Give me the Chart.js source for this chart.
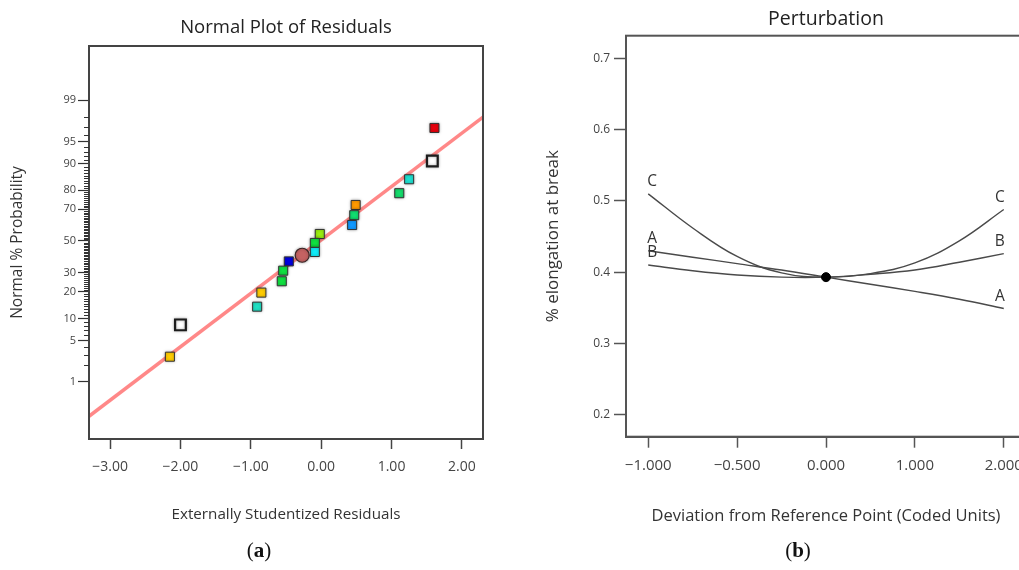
<!DOCTYPE html>
<html lang="en">
<head>
  <meta charset="UTF-8" />
  <title>Normal Plot of Residuals / Perturbation</title>
  <script src="https://cdn.jsdelivr.net/npm/chart.js"></script>
  <style>
    html, body {
      margin: 0;
      padding: 0;
      background: #fff;
      width: 1019px;
      height: 570px;
      overflow: hidden;
    }
    .wrap {
      position: relative;
      width: 1019px;
      height: 570px;
      overflow: hidden;
    }
    canvas {
      position: absolute;
      top: 0;
    }
    #normalPlot { left: 0; }
    #perturbPlot { left: 520px; }
    .caption {
      position: absolute;
      top: 538px;
      font-family: 'Liberation Serif', serif;
      font-size: 21px;
      color: #111;
      transform: translateX(-50%);
    }
    .caption b { font-weight: bold; }
  </style>
</head>
<body>
  <div class="wrap">
    <canvas id="normalPlot" width="500" height="540"></canvas>
    <canvas id="perturbPlot" width="530" height="540"></canvas>
    <div class="caption" style="left:259px">(<b>a</b>)</div>
    <div class="caption" style="left:798px">(<b>b</b>)</div>
  </div>

  <script>
    // ---- (a) normal plot of residuals ----
    const residualX = [1.61, 1.25, 1.11, 0.49, 0.47, 0.44, -0.02, -0.09, -0.09, -0.46, -0.54, -0.56, -0.85, -0.91, -2.15];
    const residualP = [96.9, 84.6, 78.5, 72.4, 66.5, 60.4, 54.6, 48.7, 42.8, 36.8, 31.2, 25.3, 19.7, 13.9, 2.8];
    const residualColors = ['#e8000c', '#1fe0d0', '#14dc6c', '#ff9a00', '#10de70', '#1199ff', '#9aee10',
                            '#10e040', '#10ecf8', '#0000e0', '#10e040', '#10e040', '#ffcc00', '#20e0c4', '#ffcc00'];
    const openX = [1.58, -2.00];
    const openP = [90.7, 8.3];
    const circleX = [-0.27];
    const circleP = [40.7];
    const fitX = [-3.3, 2.3];
    const fitP = [0.19, 97.96];

    const resTickVals = [-3, -2, -1, 0, 1, 2];
    const resTickLabels = ['\u22123.00', '\u22122.00', '\u22121.00', '0.00', '1.00', '2.00'];
    const probTickLabels = [1, 5, 10, 20, 30, 50, 70, 80, 90, 95, 99];

    // ---- (b) perturbation ----
    const devX = [-1, -0.75, -0.5, -0.25, 0, 0.25, 0.5, 0.75, 1];
    const factorA = [0.430, 0.421, 0.412, 0.403, 0.393, 0.383, 0.373, 0.362, 0.349];
    const factorB = [0.410, 0.402, 0.396, 0.393, 0.393, 0.397, 0.403, 0.414, 0.426];
    const factorC = [0.510, 0.462, 0.422, 0.399, 0.393, 0.398, 0.413, 0.444, 0.488];
    const refX = [0];
    const refY = [0.393];

    const devTickVals = [-1, -0.5, 0, 0.5, 1];
    const devTickLabels = ['\u22121.000', '\u22120.500', '0.000', '1.000', '2.000'];
    const elongTickVals = [0.2, 0.3, 0.4, 0.5, 0.6, 0.7];
    const elongTickLabels = ['0.2', '0.3', '0.4', '0.5', '0.6', '0.7'];

    const FONT = "'Open Sans', 'Noto Sans', sans-serif";

    // inverse normal cdf (Acklam), used for the probability axis
    function probit(p) {
      const a = [-3.969683028665376e+01, 2.209460984245205e+02, -2.759285104469687e+02, 1.383577518672690e+02, -3.066479806614716e+01, 2.506628277459239e+00];
      const b = [-5.447609879822406e+01, 1.615858368580409e+02, -1.556989798598866e+02, 6.680131188771972e+01, -1.328068155288572e+01];
      const c = [-7.784894002430293e-03, -3.223964580411365e-01, -2.400758277161838e+00, -2.549671324505935e+00, 4.374664141464968e+00, 2.938163982698783e+00];
      const d = [7.784695709041462e-03, 3.224671290700398e-01, 2.445134137142996e+00, 3.754408661907416e+00];
      const lo = 0.02425;
      let q, r;
      if (p < lo) {
        q = Math.sqrt(-2 * Math.log(p));
        return (((((c[0]*q+c[1])*q+c[2])*q+c[3])*q+c[4])*q+c[5]) / ((((d[0]*q+d[1])*q+d[2])*q+d[3])*q+1);
      }
      if (p > 1 - lo) {
        q = Math.sqrt(-2 * Math.log(1 - p));
        return -(((((c[0]*q+c[1])*q+c[2])*q+c[3])*q+c[4])*q+c[5]) / ((((d[0]*q+d[1])*q+d[2])*q+d[3])*q+1);
      }
      q = p - 0.5; r = q * q;
      return (((((a[0]*r+a[1])*r+a[2])*r+a[3])*r+a[4])*r+a[5])*q / (((((b[0]*r+b[1])*r+b[2])*r+b[3])*r+b[4])*r+1);
    }
    const toPoints = (xs, ps) => xs.map((x, i) => ({ x: x, y: probit(ps[i] / 100) }));

    // box round the plot area
    const frame = {
      id: 'frame',
      afterDraw(chart, args, opts) {
        const { ctx, chartArea: a } = chart;
        ctx.save();
        ctx.strokeStyle = opts.color || '#444';
        ctx.lineWidth = opts.width || 2;
        ctx.strokeRect(a.left, a.top, a.right - a.left, a.bottom - a.top);
        ctx.restore();
      }
    };

    // heading centred over the plot area (the built-in title centres on the canvas)
    const plotTitle = {
      id: 'plotTitle',
      afterDraw(chart, args, opts) {
        const { ctx, chartArea: a } = chart;
        ctx.save();
        ctx.fillStyle = '#222';
        ctx.font = opts.size + 'px ' + FONT;
        ctx.textAlign = 'center';
        ctx.textBaseline = 'middle';
        ctx.fillText(opts.text, (a.left + a.right) / 2, opts.y);
        ctx.restore();
      }
    };

    // soft halo under the square markers
    const glow = {
      id: 'glow',
      beforeDatasetDraw(chart, args) {
        if (!chart.data.datasets[args.index].glow) return;
        chart.ctx.save();
        chart.ctx.shadowColor = 'rgba(0,0,0,0.35)';
        chart.ctx.shadowBlur = 3;
      },
      afterDatasetDraw(chart, args) {
        if (!chart.data.datasets[args.index].glow) return;
        chart.ctx.restore();
      }
    };

    // short unlabelled ticks at every whole percent
    const minorTicks = {
      id: 'minorTicks',
      afterDraw(chart) {
        const s = chart.scales.y;
        const ctx = chart.ctx;
        ctx.save();
        ctx.strokeStyle = '#333';
        ctx.lineWidth = 1;
        for (let p = 1; p <= 99; p++) {
          if (probTickLabels.includes(p)) continue;
          const y = Math.round(s.getPixelForValue(probit(p / 100))) + 0.5;
          ctx.beginPath();
          ctx.moveTo(s.right - 5, y);
          ctx.lineTo(s.right, y);
          ctx.stroke();
        }
        ctx.restore();
      }
    };

    new Chart(document.getElementById('normalPlot'), {
      type: 'scatter',
      data: {
        datasets: [
          {
            type: 'line',
            data: toPoints(fitX, fitP),
            borderColor: 'rgba(255,110,110,0.82)',
            borderWidth: 3.5,
            pointRadius: 0,
            order: 5
          },
          {
            data: toPoints(residualX, residualP),
            pointStyle: 'rect',
            pointRadius: 6.4,
            pointBackgroundColor: residualColors,
            pointBorderColor: '#333',
            pointBorderWidth: 1,
            glow: true,
            order: 2
          },
          {
            data: toPoints(openX, openP),
            pointStyle: 'rect',
            pointRadius: 7.6,
            pointBackgroundColor: '#fff',
            pointBorderColor: '#1c1c1c',
            pointBorderWidth: 2.2,
            glow: true,
            order: 2
          },
          {
            data: toPoints(circleX, circleP),
            pointStyle: 'circle',
            pointRadius: 7,
            pointBackgroundColor: '#c46262',
            pointBorderColor: '#3a2626',
            pointBorderWidth: 1.2,
            glow: true,
            order: 1
          }
        ]
      },
      options: {
        responsive: false,
        animation: false,
        events: [],
        layout: { padding: { left: 0, right: 17, top: 46, bottom: 0 } },
        plugins: {
          legend: { display: false },
          tooltip: { enabled: false },
          title: { display: false },
          plotTitle: { text: 'Normal Plot of Residuals', size: 18.5, y: 28 },
          frame: { color: '#444', width: 2 }
        },
        scales: {
          x: {
            type: 'linear',
            min: -3.3,
            max: 2.3,
            afterBuildTicks: s => { s.ticks = resTickVals.map(v => ({ value: v })); },
            afterFit: s => { s.height = 101; },
            ticks: {
              callback: (v, i) => resTickLabels[i],
              color: '#444',
              font: { family: FONT, size: 14 },
              padding: 10,
              maxRotation: 0
            },
            grid: { drawOnChartArea: false, tickLength: 10, tickColor: '#444', tickWidth: 1.5 },
            border: { color: '#444', width: 2 },
            title: {
              display: true,
              text: 'Externally Studentized Residuals',
              color: '#333',
              font: { family: FONT, size: 15.2 },
              padding: { top: 0, bottom: 15.9 }
            }
          },
          y: {
            type: 'linear',
            min: -3.27,
            max: 3.22,
            afterBuildTicks: s => { s.ticks = probTickLabels.map(p => ({ value: probit(p / 100) })); },
            afterFit: s => { s.width = 89; },
            ticks: {
              callback: (v, i) => String(probTickLabels[i]),
              color: '#444',
              font: { family: FONT, size: 11 },
              padding: 2
            },
            grid: { drawOnChartArea: false, tickLength: 11, tickColor: '#333', tickWidth: 1.2 },
            border: { color: '#444', width: 2 },
            title: {
              display: true,
              text: 'Normal % Probability',
              color: '#333',
              font: { family: FONT, size: 15.5 },
              padding: { top: 8.7, bottom: 0 }
            }
          }
        }
      },
      plugins: [frame, plotTitle, glow, minorTicks]
    });

    // A / B / C tags at both ends of each curve
    const endTags = {
      id: 'endTags',
      afterDatasetsDraw(chart) {
        const { ctx, scales: { x, y } } = chart;
        ctx.save();
        ctx.fillStyle = '#333';
        ctx.font = '15.5px ' + FONT;
        ctx.textBaseline = 'middle';
        chart.data.datasets.forEach(ds => {
          if (!ds.tag) return;
          const first = ds.data[0];
          const last = ds.data[ds.data.length - 1];
          ctx.textAlign = 'left';
          ctx.fillText(ds.tag, x.getPixelForValue(first.x) - 1, y.getPixelForValue(first.y) - 12);
          ctx.textAlign = 'right';
          ctx.fillText(ds.tag, x.getPixelForValue(last.x) + 1, y.getPixelForValue(last.y) - 12);
        });
        ctx.restore();
      }
    };

    const curve = (tag, ys) => ({
      tag: tag,
      data: devX.map((x, i) => ({ x: x, y: ys[i] })),
      borderColor: '#4a4a4a',
      borderWidth: 1.4,
      pointRadius: 0,
      tension: 0.4,
      fill: false
    });

    new Chart(document.getElementById('perturbPlot'), {
      type: 'line',
      data: {
        datasets: [
          {
            type: 'scatter',
            data: refX.map((x, i) => ({ x: x, y: refY[i] })),
            pointRadius: 4.5,
            pointBackgroundColor: '#000',
            pointBorderColor: '#000',
            order: 0
          },
          curve('A', factorA),
          curve('B', factorB),
          curve('C', factorC)
        ]
      },
      options: {
        responsive: false,
        animation: false,
        events: [],
        layout: { padding: { left: 0, right: 24, top: 35.7, bottom: 0 } },
        plugins: {
          legend: { display: false },
          tooltip: { enabled: false },
          title: { display: false },
          plotTitle: { text: 'Perturbation', size: 19.5, y: 19 },
          frame: { color: '#555', width: 2 }
        },
        scales: {
          x: {
            type: 'linear',
            min: -1.125,
            max: 1.125,
            afterBuildTicks: s => { s.ticks = devTickVals.map(v => ({ value: v })); },
            afterFit: s => { s.height = 103.3; },
            ticks: {
              callback: (v, i) => devTickLabels[i],
              color: '#444',
              font: { family: FONT, size: 15 },
              padding: 9,
              maxRotation: 0
            },
            grid: { drawOnChartArea: false, tickLength: 11, tickColor: '#555', tickWidth: 1.5 },
            border: { color: '#555', width: 2 },
            title: {
              display: true,
              text: 'Deviation from Reference Point (Coded Units)',
              color: '#333',
              font: { family: FONT, size: 16.5 },
              padding: { top: 0, bottom: 14 }
            }
          },
          y: {
            type: 'linear',
            min: 0.169,
            max: 0.732,
            afterBuildTicks: s => { s.ticks = elongTickVals.map(v => ({ value: v })); },
            afterFit: s => { s.width = 106; },
            ticks: {
              callback: (v, i) => elongTickLabels[i],
              color: '#444',
              font: { family: FONT, size: 12 },
              padding: 4
            },
            grid: { drawOnChartArea: false, tickLength: 12, tickColor: '#555', tickWidth: 1.5 },
            border: { color: '#555', width: 2 },
            title: {
              display: true,
              text: '% elongation at break',
              color: '#333',
              font: { family: FONT, size: 17 },
              padding: { top: 22.8, bottom: 0 }
            }
          }
        }
      },
      plugins: [frame, plotTitle, endTags]
    });
  </script>
</body>
</html>
